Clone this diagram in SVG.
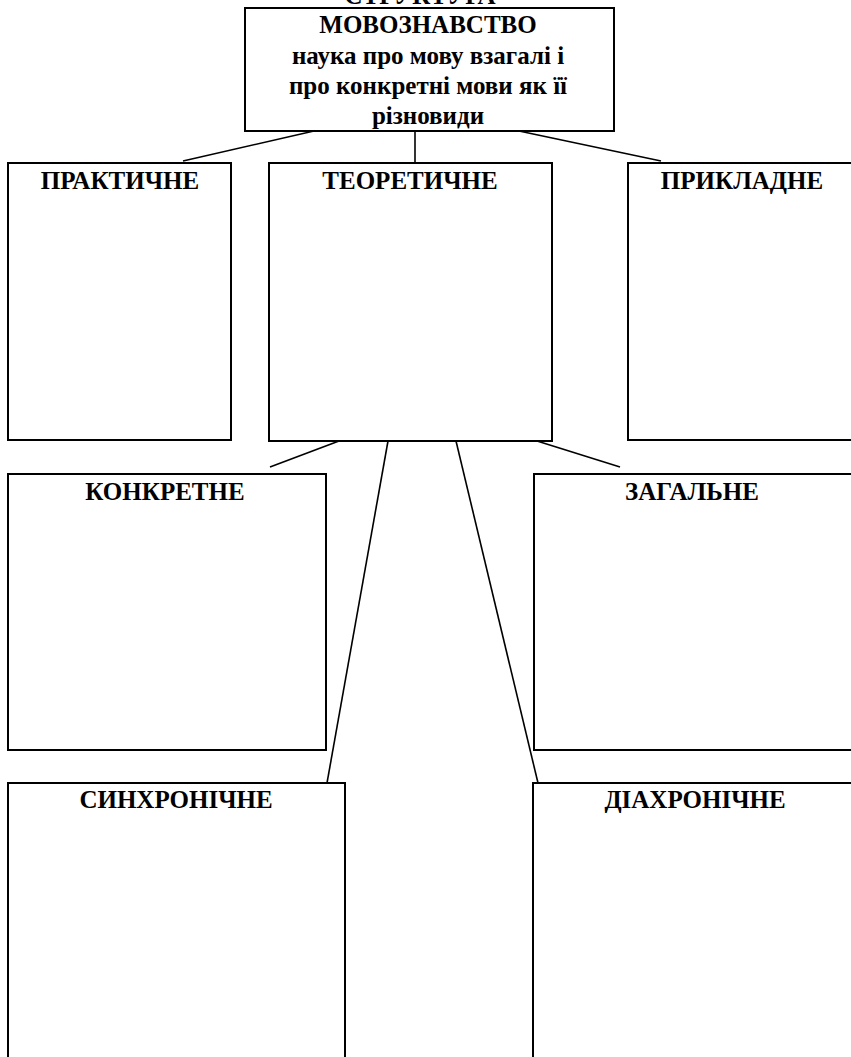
<svg xmlns="http://www.w3.org/2000/svg" width="851" height="1057" viewBox="0 0 851 1057">
<style>
.box{fill:#fff;stroke:#000;stroke-width:2}
.t{font-family:"Liberation Serif","Times New Roman",serif;font-weight:bold;font-size:25px;text-anchor:middle;fill:#000}
.c{stroke:#000;stroke-width:1.6;fill:none}
</style>
<rect width="851" height="1057" fill="#fff"/>
<text class="t" x="420" y="4">СТРУКТУРА</text>
<g id="connectors">
<line class="c" x1="314" y1="131" x2="183" y2="161"/>
<line class="c" x1="415" y1="131" x2="415" y2="163"/>
<line class="c" x1="519" y1="131" x2="661" y2="161"/>
<line class="c" x1="339" y1="441" x2="270" y2="467"/>
<line class="c" x1="388" y1="441" x2="327" y2="783"/>
<line class="c" x1="456" y1="441" x2="538" y2="783"/>
<line class="c" x1="537" y1="441" x2="620" y2="467"/>
</g>
<g id="main">
<rect class="box" x="245" y="8" width="369" height="123"/>
<text class="t" x="428" y="33">МОВОЗНАВСТВО</text>
<text class="t" x="428" y="64">наука про мову взагалі і</text>
<text class="t" x="428" y="94">про конкретні мови як її</text>
<text class="t" x="428" y="124">різновиди</text>
</g>
<g id="praktychne">
<rect class="box" x="8" y="163" width="223" height="277"/>
<text class="t" x="120" y="189">ПРАКТИЧНЕ</text>
</g>
<g id="teoretychne">
<rect class="box" x="269" y="163" width="283" height="278"/>
<text class="t" x="410" y="189">ТЕОРЕТИЧНЕ</text>
</g>
<g id="prykladne">
<rect class="box" x="628" y="163" width="240" height="277"/>
<text class="t" x="742" y="189">ПРИКЛАДНЕ</text>
</g>
<g id="konkretne">
<rect class="box" x="8" y="474" width="318" height="276"/>
<text class="t" x="165" y="500">КОНКРЕТНЕ</text>
</g>
<g id="zahalne">
<rect class="box" x="534" y="474" width="340" height="276"/>
<text class="t" x="692" y="500">ЗАГАЛЬНЕ</text>
</g>
<g id="synkhronichne">
<rect class="box" x="8" y="783" width="337" height="300"/>
<text class="t" x="176" y="808">СИНХРОНІЧНЕ</text>
</g>
<g id="diakhronichne">
<rect class="box" x="533" y="783" width="340" height="300"/>
<text class="t" x="695" y="808">ДІАХРОНІЧНЕ</text>
</g>
</svg>
